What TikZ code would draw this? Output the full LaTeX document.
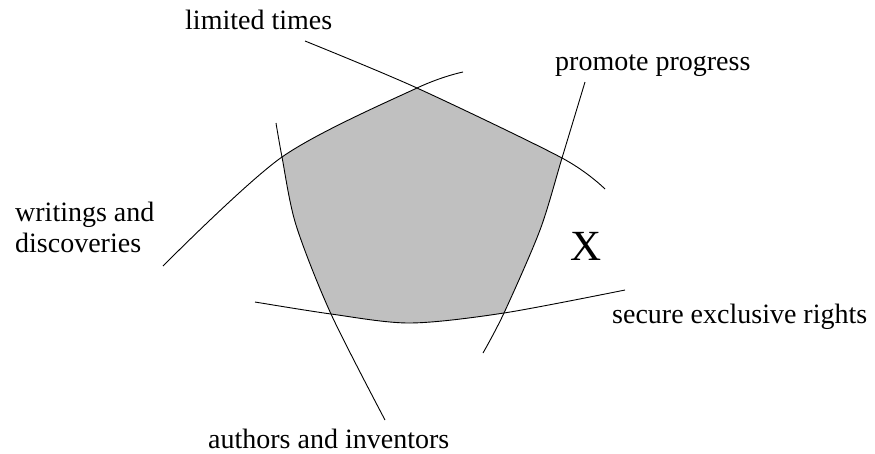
\documentclass[tikz,border=0pt]{standalone}
\usepackage{fontspec}
\setmainfont{Liberation Serif}

\definecolor{regiongray}{RGB}{192,192,192}

\tikzset{
  curve/.style={line width=0.9pt, line join=round},
  termlabel/.style={anchor=base west, inner sep=0pt,
    font=\fontsize{28}{31}\selectfont}
}

\begin{document}
\begin{tikzpicture}[x=1pt,y=-1pt]

\useasboundingbox (0,0) rectangle (875,453);

% Corners of the shaded region
\coordinate (T) at (417,88);
\coordinate (R) at (562,158);
\coordinate (BR) at (504,313);
\coordinate (BL) at (331,314);
\coordinate (L) at (282,157);

% The five curves
\def\curveWD{plot[smooth] coordinates {(163,266) (L) (T) (463,72)}}
\def\curveLT{plot[smooth] coordinates {(305,41) (T) (R) (605,189)}}
\def\curvePP{plot[smooth] coordinates {(585,82) (R) (540,230) (BR) (483,353)}}
\def\curveSER{plot[smooth] coordinates {(255,302) (BL) (410,323) (BR) (625,290)}}
\def\curveAI{plot[smooth] coordinates {(276,123) (L) (296,225) (BL) (385,420)}}

% Shaded region inside all five curves
\begin{scope}
  \clip \curveWD -- (875,0) -- (875,453) -- (0,453) -- cycle;
  \clip \curveLT -- (700,453) -- (0,453) -- (0,0) -- cycle;
  \clip \curvePP -- (400,453) -- (0,453) -- (0,0) -- (600,0) -- cycle;
  \clip \curveSER -- (875,0) -- (0,0) -- (0,302) -- cycle;
  \clip \curveAI -- (875,453) -- (875,0) -- (280,0) -- cycle;
  \fill[regiongray] (0,0) rectangle (875,453);
\end{scope}

\draw[curve] \curveWD;
\draw[curve] \curveLT;
\draw[curve] \curvePP;
\draw[curve] \curveSER;
\draw[curve] \curveAI;

% Labels
\node[termlabel] (limited) at (185,29) {limited times};
\node[termlabel] (promote) at (555,70) {promote progress};
\node[termlabel, align=left] (writings) at (15,252) {writings and\\discoveries};
\node[termlabel] (secure) at (612,323) {secure exclusive rights};
\node[termlabel] (authors) at (208,448) {authors and inventors};
\node[termlabel, font=\fontsize{43}{48}\selectfont] (X) at (570,260) {X};

\end{tikzpicture}
\end{document}
